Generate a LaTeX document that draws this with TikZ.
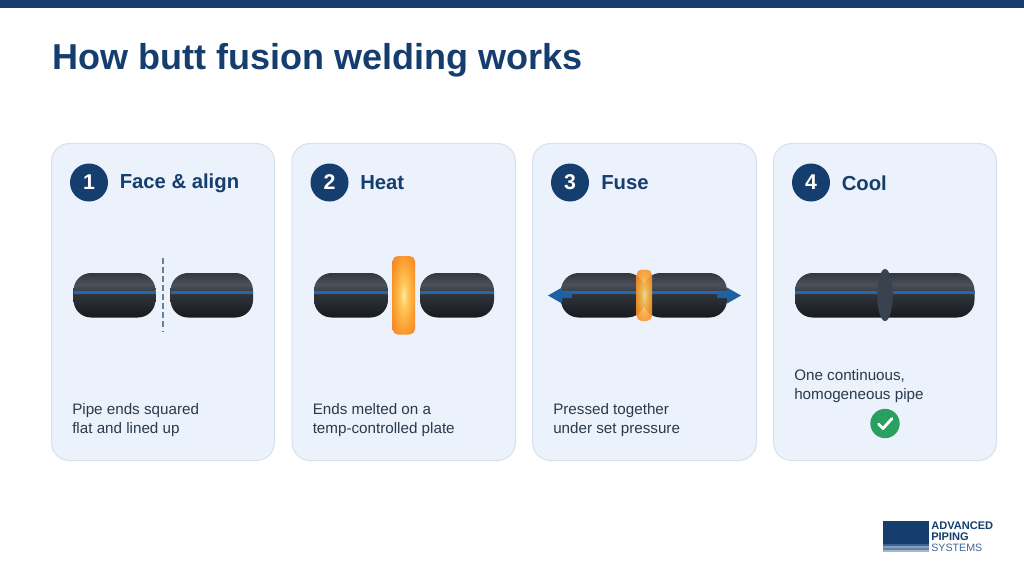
\documentclass[tikz,border=0pt]{standalone}
\usepackage{fontspec}
\setmainfont{Liberation Sans}
\definecolor{navy}{HTML}{153E6F}
\definecolor{cardfill}{HTML}{EBF2FB}
\definecolor{cardline}{HTML}{D6E1EE}
\definecolor{stripe}{HTML}{2268B0}
\definecolor{bodytext}{HTML}{2A3A4D}
\definecolor{pa}{HTML}{16191D}
\definecolor{pb}{HTML}{1A1D21}
\definecolor{pc}{HTML}{2F3339}
\definecolor{pd}{HTML}{363B42}
\definecolor{pe}{HTML}{4B5159}
\definecolor{pf}{HTML}{33383E}
\definecolor{ha}{HTML}{FFE9A8}
\definecolor{hb}{HTML}{FFC85A}
\definecolor{hc}{HTML}{FBA030}
\definecolor{hd}{HTML}{F67B28}
\definecolor{he}{HTML}{F2652A}
\definecolor{dashc}{HTML}{6B7F93}
\definecolor{beadc}{HTML}{39424D}
\definecolor{okc}{HTML}{27A060}
\definecolor{la}{HTML}{3F6494}
\definecolor{lb}{HTML}{86A0BC}
\definecolor{lc}{HTML}{5F82A8}
\definecolor{ld}{HTML}{A3B7CC}
\pgfdeclareverticalshading{pipeshade}{100bp}{
  color(0bp)=(pa);
  color(25bp)=(pa);
  color(28bp)=(pb);
  color(50bp)=(pc);
  color(53bp)=(pd);
  color(62bp)=(pe);
  color(75bp)=(pf);
  color(100bp)=(pf)}
\pgfdeclareradialshading{plateshade}{\pgfpointorigin}{
  color(0bp)=(ha);
  color(8bp)=(hb);
  color(22bp)=(hc);
  color(38bp)=(hd);
  color(50bp)=(he);
  color(100bp)=(he)}
\tikzset{
  x=0.75pt,y=-0.75pt,
  cardbox/.style={draw=cardline,fill=cardfill,line width=0.75pt,rounded corners=13.5pt},
  badge/.style={circle,fill=navy,text=white,minimum size=28.5pt,inner sep=0pt,font=\fontsize{16}{16}\selectfont\bfseries},
  headtext/.style={anchor=west,inner sep=0pt,text=navy,font=\fontsize{15.2}{18}\selectfont\bfseries},
  desctext/.style={anchor=north west,inner sep=0pt,align=left,text=bodytext,font=\fontsize{11.4}{14.2}\selectfont},
  pipebody/.style={shading=pipeshade,rounded corners=13.2pt},
  stripeline/.style={fill=stripe},
  plate/.style={shading=plateshade,rounded corners=4pt},
  arrowshape/.style={fill=stripe!80!navy},
}
\newcommand{\pipebar}[2]{%
  \shade[pipebody] (#1,273) rectangle (#2,317.5);
  \fill[stripeline] (#1,290.6) rectangle (#2,294.2);}
\begin{document}
\begin{tikzpicture}
\useasboundingbox (0,0) rectangle (1024,576);
\fill[white] (0,0) rectangle (1024,576);
\fill[navy] (0,0) rectangle (1024,8);
\node[anchor=west,inner sep=0pt,text=navy,font=\fontsize{27}{32}\selectfont\bfseries] (title) at (52,60) {How butt fusion welding works};
% cards
\draw[cardbox] (51.5,143.5) rectangle (274.5,460.5);
\draw[cardbox] (292,143.5) rectangle (515.5,460.5);
\draw[cardbox] (532.5,143.5) rectangle (756.5,460.5);
\draw[cardbox] (773.5,143.5) rectangle (996.5,460.5);
% headers
\node[badge] (b1) at (89,182.5) {1};
\node[badge] (b2) at (329.5,182.5) {2};
\node[badge] (b3) at (570,182.5) {3};
\node[badge] (b4) at (811,182.5) {4};
\node[headtext] (h1) at (119.5,183) {Face \& align};
\node[headtext] (h2) at (360,183) {Heat};
\node[headtext] (h3) at (601,183) {Fuse};
\node[headtext] (h4) at (841.5,183) {Cool};
% descriptions
\node[desctext] (d1) at (72,403) {Pipe ends squared\\flat and lined up};
\node[desctext] (d2) at (312.5,403) {Ends melted on a\\temp-controlled plate};
\node[desctext] (d3) at (553,403) {Pressed together\\under set pressure};
\node[desctext] (d4) at (794,369) {One continuous,\\homogeneous pipe};
% step 1
\pipebar{73.5}{155.5}
\pipebar{170.5}{253}
\draw[color=dashc,line width=1.5pt,dash pattern=on 4.2pt off 2.6pt] (163,258) -- (163,331);
% step 2
\pipebar{314}{388}
\pipebar{420}{494}
\shade[plate] (392.5,256) rectangle (415,334.5);
% step 3
\pipebar{561}{645}
\pipebar{643}{727}
\begin{scope}[opacity=0.9]
\shade[plate] (636.5,269.5) rectangle (652,321);
\end{scope}
\fill[arrowshape] (548,295.5) -- (562,287.5) -- (562,292.5) -- (572,292.5) -- (572,298) -- (562,298) -- (562,303.5) -- cycle;
\fill[arrowshape] (741,295.5) -- (727,287.5) -- (727,292.5) -- (717,292.5) -- (717,298) -- (727,298) -- (727,303.5) -- cycle;
% step 4
\pipebar{795}{974.5}
\fill[color=beadc] (885,295) ellipse [x radius=7.8,y radius=26];
% check
\node[circle,fill=okc,minimum size=22pt,inner sep=0pt] (ok) at (885,423.5) {};
\draw[white,line width=2.1pt,line cap=round,line join=round] (878.5,424) -- (883,428.5) -- (892,418.5);
% logo
\fill[navy] (883,521) rectangle (929,544);
\fill[la] (883,544) rectangle (929,546);
\fill[lb] (883,546) rectangle (929,548);
\fill[lc] (883,548) rectangle (929,550);
\fill[ld] (883,550) rectangle (929,552);
\node[anchor=west,inner sep=0pt,text=navy,font=\fontsize{8.3}{10}\selectfont\bfseries] (l1) at (931,525.5) {ADVANCED};
\node[anchor=west,inner sep=0pt,text=navy,font=\fontsize{8.3}{10}\selectfont\bfseries] (l2) at (931,536.5) {PIPING};
\node[anchor=west,inner sep=0pt,text=la,font=\fontsize{8}{10}\selectfont] (l3) at (931,547.5) {SYSTEMS};
\end{tikzpicture}
\end{document}
